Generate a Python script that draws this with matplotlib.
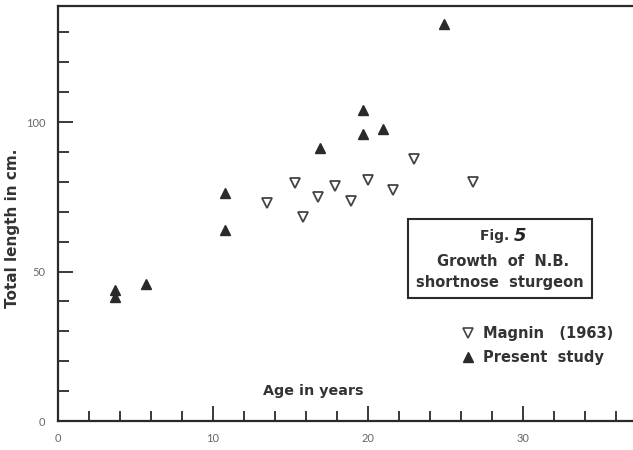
import matplotlib
matplotlib.use('Agg')
import matplotlib.pyplot as plt
from matplotlib.ticker import MultipleLocator

# Present study (filled triangles)
present_age = [3.7, 3.7, 5.7, 10.8, 10.8, 16.9, 19.7, 19.7, 21.0, 24.9]
present_len = [43.8, 41.5, 45.8, 63.9, 76.3, 91.3, 104.0, 96.0, 97.6, 132.8]

# Magnin (1963) (open down triangles)
magnin_age = [13.5, 15.3, 15.8, 16.8, 17.9, 18.9, 20.0, 21.6, 23.0, 26.8]
magnin_len = [72.9, 79.6, 68.2, 74.9, 78.6, 73.6, 80.6, 77.3, 87.6, 79.9]

ink = '#2a2a2a'
txt = '#333333'
plt.rcParams['font.family'] = ['DejaVu Sans']

fig = plt.figure(figsize=(6.33, 4.5), dpi=100)
ax = fig.add_axes([58 / 633, 29 / 450, 1 - 58 / 633, 415 / 450])

ax.plot(magnin_age, magnin_len, linestyle='none', marker='v', markersize=7.5,
        markerfacecolor='white', markeredgecolor='#444444', markeredgewidth=1.3)
ax.plot(present_age, present_len, linestyle='none', marker='^', markersize=7.5,
        color=ink)

ax.set_xlim(0, 37.1)
ax.set_ylim(0, 138.8)

ax.xaxis.set_major_locator(MultipleLocator(10))
ax.xaxis.set_minor_locator(MultipleLocator(2))
ax.yaxis.set_major_locator(MultipleLocator(50))
ax.yaxis.set_minor_locator(MultipleLocator(10))
ax.tick_params(which='both', direction='in', color=ink, width=1.3,
               labelcolor='#666666', labelsize=8)
ax.tick_params(which='major', length=11, pad=9)
ax.tick_params(which='minor', length=7)
ax.tick_params(axis='y', which='minor', length=8)
for lab in ax.get_xticklabels() + ax.get_yticklabels():
    lab.set_fontfamily('Lato')

ax.spines['right'].set_visible(False)
for s in ['left', 'bottom', 'top']:
    ax.spines[s].set_linewidth(1.6)
    ax.spines[s].set_color(ink)

# Labels
ax.text(16.5, 10, 'Age in years', ha='center', va='center', fontsize=10.3,
        fontweight='bold', color=txt)
fig.text(13 / 633, 1 - 228 / 450, 'Total length in cm.', rotation=90,
         ha='center', va='center', fontsize=11, fontweight='bold', color=txt)

# Title box
ax.add_patch(plt.Rectangle(((408 - 58) / 15.5, (421 - 298) / 2.99),
                           (592 - 408) / 15.5, (298 - 219) / 2.99,
                           fill=False, edgecolor=ink, linewidth=1.5))
cx = (500 - 58) / 15.5
fx = (514 - 58) / 15.5
ax.text(fx, (421 - 236) / 2.99, 'Fig. ', ha='right', va='center', fontsize=10,
        fontweight='bold', color=txt)
ax.text(fx, (421 - 236) / 2.99, '5', ha='left', va='center', fontsize=13,
        fontweight='bold', style='italic', color='#222222')
ax.text(cx + 0.2, (421 - 261) / 2.99, 'Growth  of  N.B.', ha='center', va='center',
        fontsize=10.5, fontweight='bold', color=txt)
ax.text(cx, (421 - 282) / 2.99, 'shortnose  sturgeon', ha='center', va='center',
        fontsize=10.5, fontweight='bold', color=txt)

# Legend
mx = (468 - 58) / 15.5
tx = (483 - 58) / 15.5
ax.plot([mx], [(421 - 333) / 2.99], linestyle='none', marker='v', markersize=7,
        markerfacecolor='white', markeredgecolor='#444444', markeredgewidth=1.2)
ax.plot([mx], [(421 - 357) / 2.99], linestyle='none', marker='^', markersize=7,
        color=ink)
ax.text(tx, (421 - 333) / 2.99, 'Magnin   (1963)', ha='left', va='center',
        fontsize=10.5, fontweight='bold', color=txt)
ax.text(tx, (421 - 357) / 2.99, 'Present  study', ha='left', va='center',
        fontsize=10.5, fontweight='bold', color=txt)

fig.savefig('out.png', dpi=100)
